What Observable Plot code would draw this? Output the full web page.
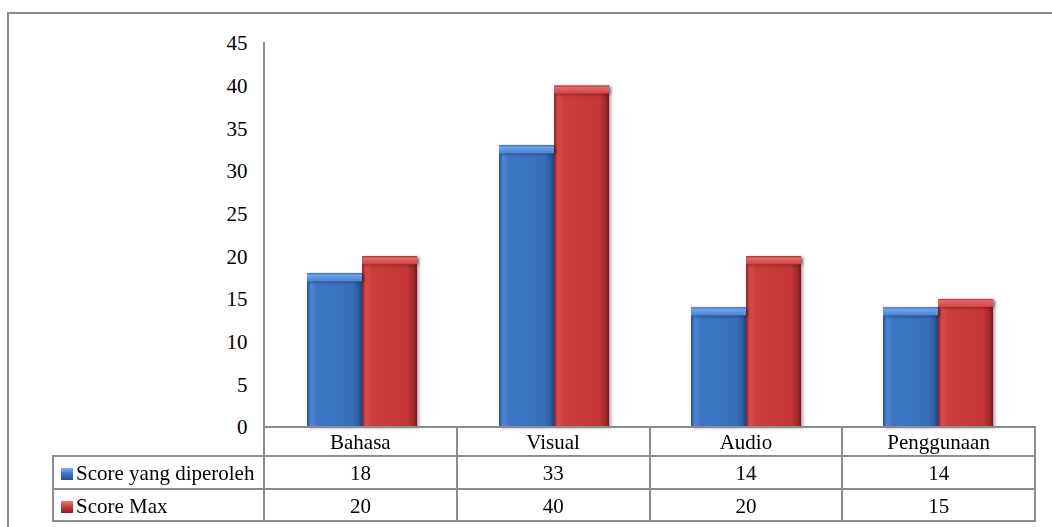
<!DOCTYPE html>
<html><head><meta charset="utf-8">
<script src="https://cdn.jsdelivr.net/npm/d3@7"></script>
<script src="https://cdn.jsdelivr.net/npm/@observablehq/plot@0.6"></script>
<style>
html,body{margin:0;padding:0;background:#fff;overflow:hidden;}
#wrap{position:relative;width:1052px;height:527px;overflow:hidden;background:#fff;font-family:"Liberation Serif","Times New Roman",serif;color:#000;}
#frame{position:absolute;left:7px;top:12px;width:1200px;height:700px;border:2px solid #8a8a8a;box-sizing:border-box;}
#chart{position:absolute;left:0;top:0;}
.ln{position:absolute;background:#8c8c8c;}
.cell{position:absolute;font-size:21px;line-height:1;white-space:nowrap;}
.ctr{text-align:center;}
.mk{display:inline-block;width:12px;height:12px;margin-right:3px;vertical-align:0px;}
#chart g[aria-label="bar"]{filter:drop-shadow(2px 1px 1.5px rgba(0,0,0,0.35));}
</style>
</head><body>
<div id="wrap"><div id="frame"></div><div id="chart"></div></div>
<script>
const categories = ["Bahasa", "Visual", "Audio", "Penggunaan"];
const seriesNames = ["Score yang diperoleh", "Score Max"];
const scoreObtained = [18, 33, 14, 14];
const scoreMax = [20, 40, 20, 15];
const yTicks = [0, 5, 10, 15, 20, 25, 30, 35, 40, 45];

const rows = categories.flatMap((c, i) => [
  {category: c, series: seriesNames[0], value: scoreObtained[i]},
  {category: c, series: seriesNames[1], value: scoreMax[i]}
]);
const blueRows = rows.filter(d => d.series === seriesNames[0]);
const redRows = rows.filter(d => d.series === seriesNames[1]);

const bar = (data, fill) => Plot.barY(data, {fx: "category", x: "series", y: "value", fill});
const bevel = (data, fill) => Plot.barY(data, {fx: "category", x: "series", y1: "value", y2: "value", insetBottom: -8, fill});

const chart = Plot.plot({
  width: 1052,
  height: 428,
  marginTop: 43,
  marginBottom: 1,
  marginLeft: 264,
  marginRight: 17,
  style: {fontFamily: '"Liberation Serif","Times New Roman",serif', fontSize: "21px", color: "#000", background: "transparent", overflow: "visible"},
  fx: {domain: categories, padding: 0, axis: null},
  x: {domain: seriesNames, paddingInner: 0, paddingOuter: 0.74, axis: null},
  y: {domain: [0, 45], ticks: yTicks, tickSize: 0, tickPadding: 19, label: null, tickFormat: d => String(d)},
  marks: [
    bar(blueRows, "url(#gBlue)"),
    bar(redRows, "url(#gRed)"),
    bevel(blueRows, "url(#gBlueTop)"),
    bevel(redRows, "url(#gRedTop)")
  ]
});

const defs = `
<linearGradient id="gBlue" x1="0" x2="1" y1="0" y2="0">
 <stop offset="0" stop-color="#24518f"/><stop offset="0.07" stop-color="#4a86d4"/>
 <stop offset="0.18" stop-color="#3d77c4"/><stop offset="0.82" stop-color="#366eb9"/>
 <stop offset="0.93" stop-color="#2c5ea3"/><stop offset="1" stop-color="#1d437b"/>
</linearGradient>
<linearGradient id="gRed" x1="0" x2="1" y1="0" y2="0">
 <stop offset="0" stop-color="#8c1f1f"/><stop offset="0.07" stop-color="#d84a4a"/>
 <stop offset="0.18" stop-color="#cc3c3c"/><stop offset="0.82" stop-color="#c33636"/>
 <stop offset="0.93" stop-color="#a72a2a"/><stop offset="1" stop-color="#781a1a"/>
</linearGradient>
<linearGradient id="gBlueTop" x1="0" x2="0" y1="0" y2="1">
 <stop offset="0" stop-color="#2f64ad"/><stop offset="0.2" stop-color="#6ea6ec"/><stop offset="1" stop-color="#4682d0"/>
</linearGradient>
<linearGradient id="gRedTop" x1="0" x2="0" y1="0" y2="1">
 <stop offset="0" stop-color="#a52a2a"/><stop offset="0.2" stop-color="#ec6767"/><stop offset="1" stop-color="#d24343"/>
</linearGradient>`;
const d = document.createElementNS("http://www.w3.org/2000/svg", "defs");
d.innerHTML = defs;
chart.insertBefore(d, chart.firstChild);
document.getElementById("chart").appendChild(chart);

// data table below the plot
const wrap = document.getElementById("wrap");
const gray = "#8c8c8c";
const x0 = 264, colW = 192.75, legendX = 53;
const colX = i => x0 + i * colW;
const xEnd = colX(categories.length);
const yCat = 427, yRow1 = 456, yRow2 = 489, yEndT = 521;
function hline(x1, x2, y) { const e = document.createElement("div"); e.className = "ln"; Object.assign(e.style, {left: x1 - 1 + "px", top: y - 1 + "px", width: (x2 - x1 + 2) + "px", height: "2px"}); wrap.appendChild(e); }
function vline(x, y1, y2) { const e = document.createElement("div"); e.className = "ln"; Object.assign(e.style, {left: x - 1 + "px", top: y1 - 1 + "px", width: "2px", height: (y2 - y1 + 2) + "px"}); wrap.appendChild(e); }
function cell(text, x, w, yTop, h, center) {
  const e = document.createElement("div"); e.className = "cell" + (center ? " ctr" : "");
  Object.assign(e.style, {left: x + "px", width: w + "px", top: (yTop + (h - 21) / 2 + 1) + "px"});
  if (typeof text === "string" || typeof text === "number") e.textContent = text; else e.appendChild(text);
  wrap.appendChild(e);
}
hline(x0, xEnd, yCat);
hline(legendX, xEnd, yRow1);
hline(legendX, xEnd, yRow2);
hline(legendX, xEnd, yEndT);
vline(legendX, yRow1, yEndT);
vline(x0, 43, yEndT);
for (let i = 1; i <= categories.length; i++) vline(colX(i), yCat, yEndT);

categories.forEach((c, i) => {
  cell(c, colX(i), colW, yCat, yRow1 - yCat, true);
  cell(scoreObtained[i], colX(i), colW, yRow1, yRow2 - yRow1, true);
  cell(scoreMax[i], colX(i), colW, yRow2, yEndT - yRow2, true);
});
const markerGrad = ["linear-gradient(180deg,#7fb2f0 0%,#3d77c4 45%,#24518f 100%)", "linear-gradient(180deg,#ef7a7a 0%,#cc3c3c 45%,#8c1f1f 100%)"];
seriesNames.forEach((s, i) => {
  const span = document.createElement("span");
  const m = document.createElement("span"); m.className = "mk"; m.style.background = markerGrad[i];
  span.appendChild(m); span.appendChild(document.createTextNode(s));
  const yt = i === 0 ? yRow1 : yRow2, yb = i === 0 ? yRow2 : yEndT;
  cell(span, legendX + 8, x0 - legendX - 8, yt, yb - yt, false);
});
</script>
</body></html>
